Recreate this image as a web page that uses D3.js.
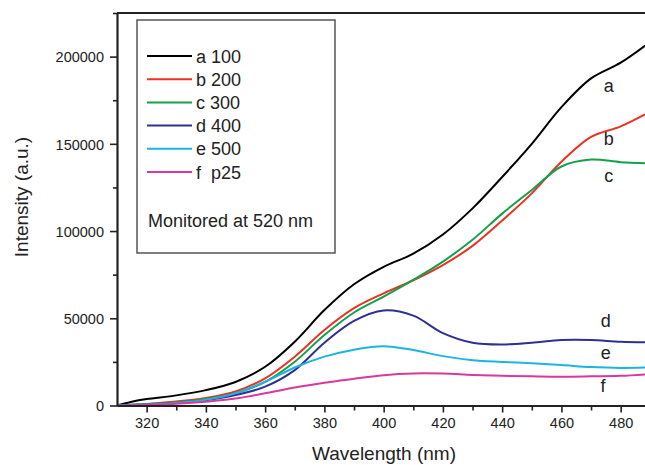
<!DOCTYPE html>
<html>
<head>
  <meta charset="UTF-8">
  <style>
    body { margin: 0; background: #fff; }
    svg { font-family: "Liberation Sans", Arial, sans-serif; }
    text { fill: #222; }
  </style>
</head>
<body>
  <svg></svg>
<script src="https://cdn.jsdelivr.net/npm/d3@7"></script>
<script>

    let width = 645;
    let height = 465;

    // wavelengths (nm) and intensities
    let wavelengths = [310, 315, 320, 330, 340, 350, 360, 370, 380, 390, 400, 410, 420, 430, 440, 450, 460, 470, 480, 490];
    let seriesA = [0, 2200, 3700, 5800, 8800, 13500, 22200, 36600, 54700, 69500, 79500, 87000, 98000, 113000, 131000, 150000, 171000, 187500, 196500, 208500];
    let seriesB = [0, 500, 900, 2300, 4300, 8000, 15600, 28000, 43300, 55800, 64300, 71800, 80500, 91500, 106000, 121600, 139700, 154000, 160000, 168500];
    let seriesC = [0, 400, 700, 1800, 3700, 7000, 13600, 25100, 40400, 53300, 62400, 72000, 82500, 95000, 110000, 123500, 137000, 141000, 139500, 138800];
    let seriesD = [0, 300, 500, 1400, 3000, 6000, 10800, 20300, 36000, 48500, 54500, 51500, 41500, 36000, 35000, 36000, 37500, 37500, 36500, 36200];
    let seriesE = [0, 300, 500, 1500, 3300, 7000, 13600, 21800, 28000, 32000, 34000, 31800, 28300, 26000, 25000, 24200, 23200, 22000, 21500, 21800];
    let seriesF = [0, 100, 300, 1000, 2200, 4000, 7000, 10300, 13000, 15400, 17400, 18400, 18300, 17500, 17000, 16700, 16500, 16700, 17000, 18000];

    let legendNames = ["a 100", "b 200", "c 300", "d 400", "e 500", "f  p25"];
    let curveLetters = ["a", "b", "c", "d", "e", "f"];
    let colors = ["#000000", "#ee3124", "#12a04b", "#2e3192", "#1cb5e0", "#d9399f"];
    // where the letters a..f sit next to the curves (wavelength, intensity)
    let letterWl = [476, 476, 476, 475, 475, 474];
    let letterVal = [180000, 149300, 128300, 45200, 26600, 7900];

    let xTicks = [320, 340, 360, 380, 400, 420, 440, 460, 480];
    let xMinor = [330, 350, 370, 390, 410, 430, 450, 470, 490];
    let yTicks = [0, 50000, 100000, 150000, 200000];
    let yMinor = [25000, 75000, 125000, 175000, 225000];

    let allSeries = [seriesA, seriesB, seriesC, seriesD, seriesE, seriesF];

    let svg = d3.select("svg")
        .attr("width", width)
        .attr("height", height);

    let padLeft = 117, padRight = 650.3, padTop = 13, padBottom = 405.5;

    let x = d3.scaleLinear().domain([310, 490]).range([padLeft, padRight]);
    let y = d3.scaleLinear().domain([0, 225000]).range([padBottom, padTop]);

    // curves
    let line = d3.line()
        .x((d, i) => x(wavelengths[i]))
        .y(d => y(d))
        .curve(d3.curveCatmullRom.alpha(0.5));

    svg.append("g")
      .selectAll("path")
      .data(allSeries)
      .enter()
      .append("path")
        .attr("fill", "none")
        .attr("stroke", (d, i) => colors[i])
        .attr("stroke-width", 2)
        .attr("d", line);

    // frame
    svg.append("line")
        .attr("x1", padLeft).attr("x2", padRight)
        .attr("y1", padTop).attr("y2", padTop)
        .attr("stroke", "#222").attr("stroke-width", 2.2);

    // x axis
    let xAxis = svg.append("g")
        .attr("transform", "translate(0," + padBottom + ")")
        .call(d3.axisBottom(x).tickValues(xTicks).tickSize(7).tickSizeOuter(0).tickPadding(5).tickFormat(d3.format("d")));
    svg.append("g")
        .attr("transform", "translate(0," + padBottom + ")")
        .call(d3.axisBottom(x).tickValues(xMinor).tickSize(5).tickFormat(""))
        .select(".domain").remove();

    // y axis
    let yAxis = svg.append("g")
        .attr("transform", "translate(" + padLeft + ",0)")
        .call(d3.axisLeft(y).tickValues(yTicks).tickSize(7).tickSizeOuter(0).tickPadding(6).tickFormat(d3.format("d")));
    svg.append("g")
        .attr("transform", "translate(" + padLeft + ",0)")
        .call(d3.axisLeft(y).tickValues(yMinor).tickSize(4).tickFormat(""))
        .select(".domain").remove();

    svg.selectAll(".domain").attr("stroke", "#222").attr("stroke-width", 2.2);
    svg.selectAll(".tick line").attr("stroke", "#222").attr("stroke-width", 1.6);
    svg.selectAll(".tick text")
        .style("font-size", "14.5px")
        .style("font-family", "Liberation Sans, Arial, sans-serif")
        .attr("fill", "#222");
    yAxis.selectAll(".tick text").attr("dy", "0.36em");

    // axis titles
    svg.append("text")
        .attr("x", 384).attr("y", 460)
        .attr("text-anchor", "middle")
        .style("font-size", "19px")
        .text("Wavelength (nm)");

    svg.append("text")
        .attr("transform", "translate(28,197) rotate(-90)")
        .attr("text-anchor", "middle")
        .style("font-size", "19px")
        .text("Intensity (a.u.)");

    // curve letters
    svg.append("g")
      .selectAll("text")
      .data(curveLetters)
      .enter()
      .append("text")
        .attr("x", (d, i) => x(letterWl[i]))
        .attr("y", (d, i) => y(letterVal[i]))
        .attr("text-anchor", "middle")
        .style("font-size", "18px")
        .text(d => d);

    // legend
    let legend = svg.append("g");
    legend.append("rect")
        .attr("x", 137).attr("y", 20)
        .attr("width", 198).attr("height", 233)
        .attr("fill", "#fff")
        .attr("stroke", "#555").attr("stroke-width", 1.5);

    let rows = legend.selectAll("g.row")
      .data(legendNames)
      .enter()
      .append("g")
        .attr("class", "row")
        .attr("transform", (d, i) => "translate(147," + (56 + i * 23.2) + ")");
    rows.append("line")
        .attr("x1", 0).attr("x2", 45)
        .attr("stroke", (d, i) => colors[i])
        .attr("stroke-width", 2);
    rows.append("text")
        .attr("x", 49).attr("y", 6.5)
        .style("font-size", "18px")
        .style("white-space", "pre")
        .text(d => d);

    legend.append("text")
        .attr("x", 148).attr("y", 227)
        .style("font-size", "18px")
        .text("Monitored at 520 nm");

</script>
</body>
</html>
